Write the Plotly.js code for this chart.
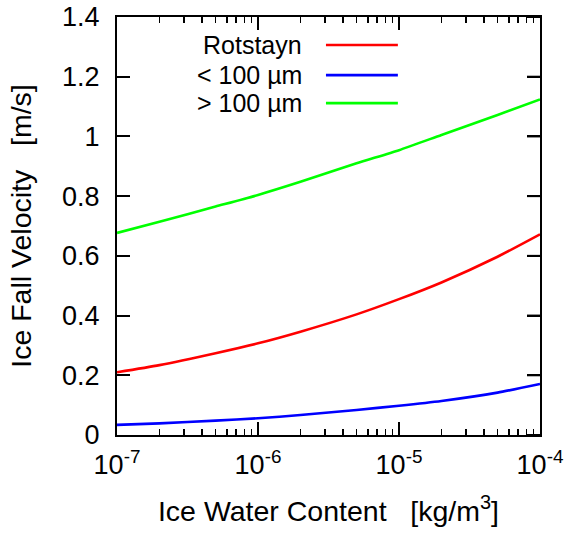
<!DOCTYPE html>
<html>
<head>
<meta charset="utf-8">
<script src="https://cdn.plot.ly/plotly-3.0.1.min.js"></script>
<style>html,body{margin:0;padding:0;background:#fff;}#chart{width:573px;height:536px;}</style>
</head>
<body>
<div id="chart"></div>
<script>
// Ice water content (kg/m^3)
const iwc = [1e-7, 2e-7, 5e-7, 1e-6, 2e-6, 5e-6, 1e-5, 2e-5, 5e-5, 1e-4];
// Ice fall velocity (m/s)
const rotstayn = [0.210, 0.234, 0.274, 0.307, 0.346, 0.404, 0.455, 0.511, 0.597, 0.672];
const small100 = [0.034, 0.039, 0.048, 0.056, 0.067, 0.084, 0.098, 0.114, 0.142, 0.171];
const large100 = [0.677, 0.714, 0.765, 0.804, 0.848, 0.910, 0.954, 1.005, 1.072, 1.124];

const seriesNames = ["Rotstayn", "< 100 \u00b5m", "> 100 \u00b5m"];
const seriesValues = [rotstayn, small100, large100];
const seriesColors = ["#ff0000", "#0000ff", "#00ff00"];

const xTickVals = [1e-7, 1e-6, 1e-5, 1e-4];
const xTickText = ["10<sup>-7</sup>", "10<sup>-6</sup>", "10<sup>-5</sup>", "10<sup>-4</sup>"];
const yTickVals = [0, 0.2, 0.4, 0.6, 0.8, 1, 1.2, 1.4];
const yTickText = ["0", "0.2", "0.4", "0.6", "0.8", "1", "1.2", "1.4"];

const FONT = "Liberation Sans, Arial, Helvetica, sans-serif";

const traces = seriesNames.map((n, i) => ({
  x: iwc, y: seriesValues[i], name: n, type: "scatter", mode: "lines",
  line: {color: seriesColors[i], width: 2.6, shape: "spline", smoothing: 0.6},
  showlegend: false, hoverinfo: "skip"
}));

// gnuplot-style key: right-aligned text with line sample to its right
const keyRows = [0.933, 0.861, 0.794];
const annotations = seriesNames.map((n, i) => ({
  xref: "paper", yref: "paper", x: 0.442, y: keyRows[i],
  xanchor: "right", yanchor: "middle", text: n, showarrow: false,
  font: {family: FONT, size: 25, color: "#000"}
}));
const shapes = seriesNames.map((n, i) => ({
  type: "line", xref: "paper", yref: "paper",
  x0: 0.494, x1: 0.664, y0: keyRows[i], y1: keyRows[i],
  line: {color: seriesColors[i], width: 2.6}
}));

// mirrored ticks on the top and right frame edges (built from the tick arrays)
const PLOT_W = 573 - 117 - 33, PLOT_H = 536 - 17 - 101;
const MAJ = 13, MIN = 6;
xTickVals.forEach((v, k) => {
  const lv = Math.log10(v);
  shapes.push({type: "line", layer: "above", xref: "x", yref: "paper", x0: lv, x1: lv, y0: 1, y1: 1 - MAJ / PLOT_H,
    line: {color: "#000", width: 2}});
  if (k < xTickVals.length - 1) {
    for (let m = 2; m <= 9; m++) {
      const lm = Math.log10(v * m);
      shapes.push({type: "line", layer: "above", xref: "x", yref: "paper", x0: lm, x1: lm, y0: 1, y1: 1 - MIN / PLOT_H,
        line: {color: "#000", width: 1.6}});
    }
  }
});
yTickVals.forEach(v => {
  shapes.push({type: "line", layer: "above", xref: "paper", yref: "y", x0: 1, x1: 1 - MAJ / PLOT_W, y0: v, y1: v,
    line: {color: "#000", width: 2}});
});

const layout = {
  width: 573, height: 536,
  margin: {l: 117, r: 33, t: 17, b: 101},
  paper_bgcolor: "#fff", plot_bgcolor: "#fff",
  font: {family: FONT, size: 27, color: "#000"},
  showlegend: false,
  xaxis: {
    type: "log", range: [-7, -4],
    tickvals: xTickVals, ticktext: xTickText,
    ticks: "inside", ticklen: MAJ, tickwidth: 2, tickcolor: "#000",
    minor: {ticks: "inside", ticklen: MIN, tickwidth: 1.6, tickcolor: "#000", dtick: "D1", showgrid: false},
    showline: true, linecolor: "#000", linewidth: 2, mirror: "ticks",
    showgrid: false, zeroline: false,
    tickfont: {family: FONT, size: 27},
    ticklabelstandoff: 5,
    title: {text: "Ice Water Content\u00a0\u00a0\u00a0[kg/m<sup>3</sup>]", font: {family: FONT, size: 28.5}, standoff: 22}
  },
  yaxis: {
    range: [0, 1.4],
    tickvals: yTickVals, ticktext: yTickText,
    ticks: "inside", ticklen: MAJ, tickwidth: 2, tickcolor: "#000",
    showline: true, linecolor: "#000", linewidth: 2, mirror: "ticks",
    showgrid: false, zeroline: false,
    tickfont: {family: FONT, size: 27},
    ticklabelstandoff: 10,
    title: {text: "Ice Fall Velocity\u00a0\u00a0\u00a0[m/s]", font: {family: FONT, size: 28.5}, standoff: 22}
  },
  annotations: annotations,
  shapes: shapes
};

Plotly.newPlot("chart", traces, layout, {staticPlot: true, displayModeBar: false});
</script>
</body>
</html>
